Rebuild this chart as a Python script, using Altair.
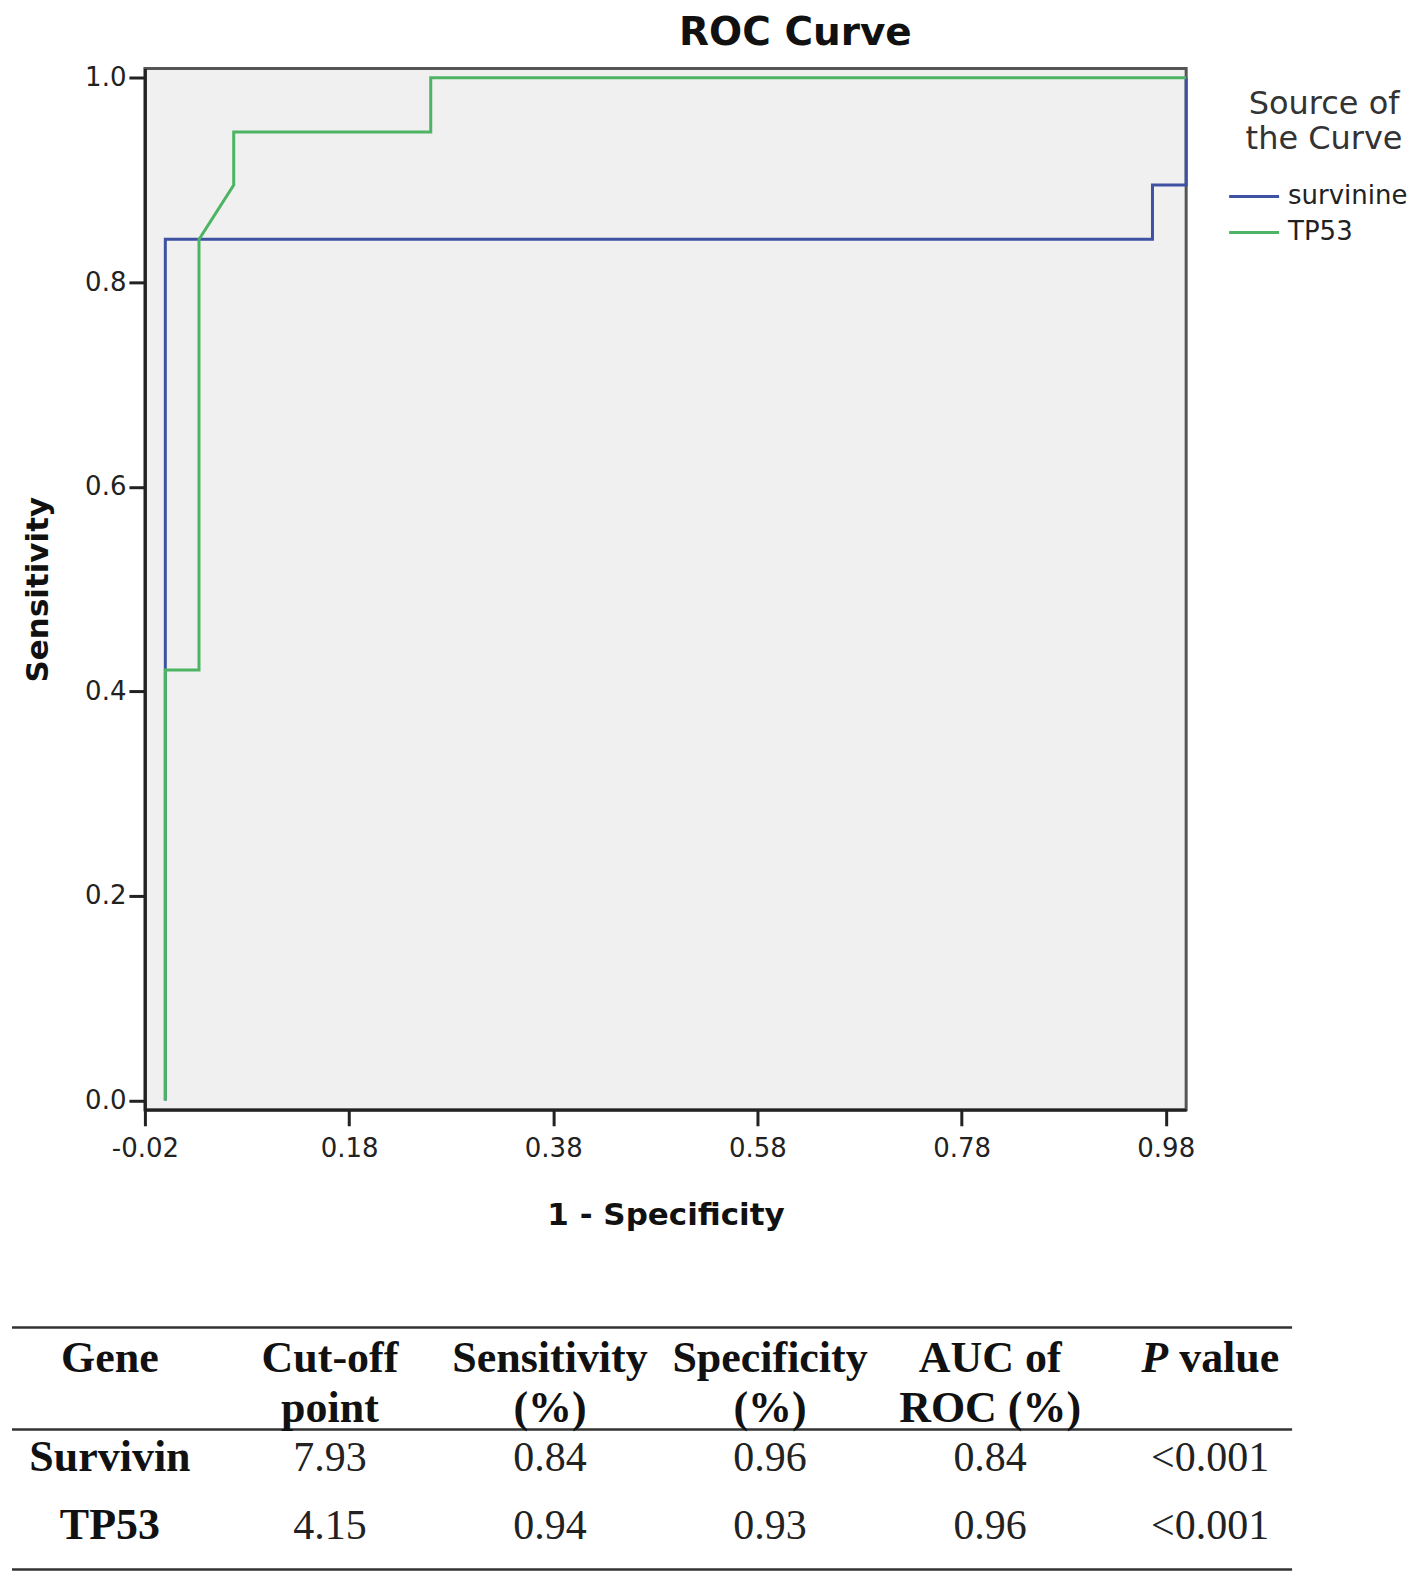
import altair as alt
import pandas as pd

# ---------------- data ----------------
series_names = ["survinine", "TP53"]
survivin_fpr = [0.0, 0.0, 0.967, 0.967, 1.0, 1.0]
survivin_tpr = [0.0, 0.842, 0.842, 0.895, 0.895, 1.0]
tp53_fpr = [0.0, 0.0, 0.033, 0.033, 0.067, 0.067, 0.26, 0.26, 1.0]
tp53_tpr = [0.0, 0.421, 0.421, 0.842, 0.895, 0.947, 0.947, 1.0, 1.0]
x_ticks = [-0.02, 0.18, 0.38, 0.58, 0.78, 0.98]
y_ticks = [0.0, 0.2, 0.4, 0.6, 0.8, 1.0]

header_line1 = ["Gene", "Cut-off", "Sensitivity", "Specificity", "AUC of", "P value"]
header_line2 = ["", "point", "(%)", "(%)", "ROC (%)", ""]
genes = ["Survivin", "TP53"]
cutoff = ["7.93", "4.15"]
sensitivity = ["0.84", "0.94"]
specificity = ["0.96", "0.93"]
auc = ["0.84", "0.96"]
p_value = ["<0.001", "<0.001"]

BLUE = "#3f51a3"
GREEN = "#4db464"
SANS = "DejaVu Sans"
SERIF = "Liberation Serif"


def roc_frame(name, xs, ys):
    return pd.DataFrame({"series": name, "fpr": xs, "tpr": ys,
                         "step": list(range(len(xs)))})


surv_df = roc_frame(series_names[0], survivin_fpr, survivin_tpr)
tp53_df = roc_frame(series_names[1], tp53_fpr, tp53_tpr)

x_enc = alt.X(
    "fpr:Q",
    scale=alt.Scale(domain=[-0.02, 1.0], nice=False, zero=False),
    axis=alt.Axis(values=x_ticks, title="1 - Specificity", grid=False,
                  labelExpr="datum.value < 0 ? '-' + format(-datum.value, '.2f') : format(datum.value, '.2f')",
                  tickSize=16, tickWidth=3, tickColor="#222", domainColor="#222",
                  domainWidth=3, labelFontSize=26, labelColor="#222", labelFont=SANS,
                  labelPadding=10, labelFlush=False, labelOverlap=False,
                  titleFontSize=31, titleFont=SANS, titleFontWeight="bold",
                  titleColor="#111", titlePadding=39),
)
y_enc = alt.Y(
    "tpr:Q",
    scale=alt.Scale(domain=[-0.009, 1.009], nice=False, zero=False),
    axis=alt.Axis(values=y_ticks, format=".1f", title="Sensitivity", grid=False,
                  tickSize=16, tickWidth=3, tickColor="#222", domainColor="#222",
                  domainWidth=3, labelFontSize=26, labelColor="#222", labelFont=SANS,
                  labelPadding=3, labelFlush=False, labelOverlap=False,
                  titleFontSize=31, titleFont=SANS, titleFontWeight="bold",
                  titleColor="#111", titlePadding=30),
)
color_enc = alt.Color(
    "series:N",
    scale=alt.Scale(domain=series_names, range=[BLUE, GREEN]),
    legend=alt.Legend(
        title=["Source of", "the Curve"], orient="none", legendX=1096, legendY=21,
        titleFontSize=32, titleFont=SANS, titleFontWeight="normal", titleColor="#333",
        titleAlign="center", titleAnchor="middle", titleLineHeight=35, titlePadding=26,
        labelFontSize=26, labelFont=SANS, labelColor="#222",
        symbolType="M-2,0L2,0", symbolSize=625, symbolStrokeWidth=3,
        labelOffset=20, rowPadding=9,
    ),
)

surv_line = alt.Chart(surv_df).mark_line(strokeWidth=3).encode(
    x=x_enc, y=y_enc, color=color_enc, order="step:Q")
tp53_line = alt.Chart(tp53_df).mark_line(strokeWidth=3).encode(
    x=x_enc, y=y_enc, color=color_enc, order="step:Q")

roc = alt.layer(surv_line, tp53_line).properties(
    width=1042, height=1042,
    view=alt.ViewBackground(fill="#f0f0f0", stroke="#555", strokeWidth=3),
    title=alt.TitleParams("ROC Curve", fontSize=39, font=SANS, fontWeight="bold",
                          anchor="middle", frame="group", dx=130, offset=12,
                          baseline="top", color="#111"),
)

# ---------------- table ----------------
cols = ["c0", "c1", "c2", "c3", "c4", "c5"]
rows = ["header", "r1", "r2"]
p_italic, p_rest = header_line1[5].split(" ", 1)

head_df = pd.DataFrame({
    "col": cols[:5],
    "row": "header",
    "text": [f"{a}\n{b}" for a, b in zip(header_line1[:5], header_line2[:5])],
})
p_df = pd.DataFrame({"col": [cols[5]], "row": ["header"], "text": [p_italic]})
pv_df = pd.DataFrame({"col": [cols[5]], "row": ["header"], "text": [p_rest]})
gene_df = pd.DataFrame({"col": cols[0], "row": rows[1:], "text": genes})
val_records = []
for ci, vals in zip(cols[1:], [cutoff, sensitivity, specificity, auc, p_value]):
    for r, v in zip(rows[1:], vals):
        val_records.append({"col": ci, "row": r, "text": v})
val_df = pd.DataFrame(val_records)

tx = alt.X("col:N", scale=alt.Scale(type="point", domain=cols, range=[-35, 1066], padding=0),
           axis=None)
ty = alt.Y("row:N", scale=alt.Scale(type="point", domain=rows, range=[61, 199], padding=0),
           axis=None)

HEAD_DY = -30
head = alt.Chart(head_df).mark_text(font=SERIF, fontSize=44, fontWeight="bold", color="#111",
                                    lineBreak="\n", lineHeight=50, baseline="middle",
                                    dy=HEAD_DY).encode(x=tx, y=ty, text="text:N")
p_mark = alt.Chart(p_df).mark_text(font=SERIF, fontSize=44, fontWeight="bold", fontStyle="italic",
                                   color="#111", baseline="middle", align="right", dx=-42,
                                   dy=HEAD_DY).encode(x=tx, y=ty, text="text:N")
pv_mark = alt.Chart(pv_df).mark_text(font=SERIF, fontSize=44, fontWeight="bold", color="#111",
                                     baseline="middle", align="left", dx=-31,
                                     dy=HEAD_DY).encode(x=tx, y=ty, text="text:N")
gene_mark = alt.Chart(gene_df).mark_text(font=SERIF, fontSize=44, fontWeight="bold", color="#111",
                                         baseline="middle").encode(x=tx, y=ty, text="text:N")
val_mark = alt.Chart(val_df).mark_text(font=SERIF, fontSize=42, color="#222",
                                       baseline="middle").encode(x=tx, y=ty, text="text:N")


def hrule(ypos):
    return alt.Chart(alt.Data(values=[{}])).mark_rule(color="#333", strokeWidth=2.5).encode(
        x=alt.value(-133), x2=alt.value(1148), y=alt.value(ypos))


table = alt.layer(hrule(0), hrule(102), hrule(242), head, p_mark, pv_mark, gene_mark,
                  val_mark).properties(width=1042, height=242)

chart = alt.vconcat(roc, table, spacing=93).configure(
    padding={"left": 2, "top": 3, "right": 0, "bottom": 0},
    background="white",
    font=SANS,
).configure_view(stroke="transparent")

chart.save("out.html", embed_options={"renderer": "svg", "actions": False})
